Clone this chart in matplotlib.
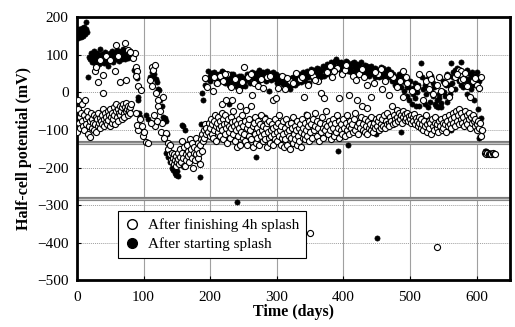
import matplotlib
matplotlib.use("Agg")
import matplotlib.pyplot as plt
from matplotlib.lines import Line2D

plt.rcParams['font.family'] = ['Liberation Serif', 'DejaVu Serif']

# ---------------- data: "After starting splash" (filled) ----------------
filled_early = [(0,150),(1,160),(2,145),(3,170),(4,155),(5,165),(6,148),(7,158),(8,172),(9,150),
    (10,162),(11,175),(12,155),(13,168),(14,189),(15,160),
    (17,40),(20,-92),(27,-94),(72,-64),
    (18,95),(20,88),(21,105),(22,92),(23,80),(24,100),(25,110),(26,90),(27,78),(28,98),(29,85),
    (30,105),(31,95),(32,88),(33,75),(34,100),(35,115),(36,92),(37,82),(38,102),(39,90),(40,78),
    (41,96),(42,108),(43,88),(44,80),(45,100),(46,92),(47,70),(48,95),(49,105),(50,85),(51,98),
    (52,110),(53,90),(54,80),(55,100),(56,95),(57,105),(58,88),(59,98),(60,112),(61,92),(62,100),
    (63,85),(64,105),(65,95),(66,110),(67,90),(68,100),(69,115),(70,95),(71,105),(72,88),(73,108),
    (74,98),(75,112),(76,92),(77,105),(78,100),(79,110),(80,96),(82,104)]
filled_dip = [(86,60),(88,52),(90,39),(92,-11),(91,-19),(93,-55),(94,-64),(104,-60),(106,-70),
    (110,40),(112,55),(114,42),(116,48),(118,35),(120,29),(121,10),(123,7),(125,-19),(127,-37),
    (129,-64),(131,-73),(132,-68),(134,-77),(135,-110),
    (133,-161),(136,-171),(138,-160),(140,-185),(142,-200),(144,-206),(145,-198),(147,-215),
    (149,-219),(150,-210),(152,-222),(155,-180),(157,-86),(159,-90),(162,-100),(164,-140),
    (166,-165),(168,-150),(170,-175),(172,-160),(175,-170),(177,-180),(179,-144),(182,-170),
    (184,-224),(186,-85),(187,-2),(189,-19),(192,20),(194,35),(197,56)]
filled_band = [(199,45),(201,52),(203,38),(205,55),(207,42),(209,48),(211,30),(213,50),(215,40),
    (217,58),(219,35),(221,45),(223,25),(225,50),(227,38),(229,20),(231,42),(233,30),(235,48),
    (237,25),(239,40),(241,15),(243,35),(245,22),(247,45),(249,30),(251,38),(253,18),(255,42),
    (257,35),(259,50),(261,40),(263,55),(265,45),(267,30),(269,52),(271,42),(273,60),(275,38),
    (277,48),(279,55),(281,35),(283,45),(285,58),(287,40),(289,3),(291,50),(293,42),(295,55),
    (297,35),(299,48),(301,38),(303,45),(305,28),(307,40),(309,22),(311,35),(313,18),(315,30),
    (317,15),(319,25),(321,38),(323,20),(325,42),(327,30),(329,45),(331,25),(333,40),(335,50),
    (337,35),(339,55),(341,45),(343,30),(345,58),(347,40),(349,52),(351,62),(353,45),(355,35),
    (357,55),(359,48),(361,65),(363,50),(365,40),(367,58),(369,70),(371,45),(373,62),(375,75),
    (377,55),(379,68),(381,80),(383,62),(385,72),(387,85),(389,90),(391,65),(393,78),(395,70),
    (397,82),(399,60),(401,75),(403,68),(405,80),(407,58),(409,72),(411,65),(413,78),(415,55),
    (417,70),(419,62),(421,75),(423,58),(425,68),(427,80),(429,50),(431,65),(433,72),(435,55),
    (437,62),(439,45),(441,70),(443,58),(445,48),(447,65),(449,52),(451,60),(453,40),(455,55),
    (457,68),(459,45),(461,58),(463,35),(465,50),(467,62),(469,40),(471,55),(473,30),(475,48),
    (477,20),(479,42),(481,35),(483,25),(485,45),(487,15),(489,38),(491,5),(493,28),(495,-10),
    (497,20),(499,-20),(501,10),(503,-30),(505,-5),(507,25),(509,-35),(511,0),(513,-35),(516,79),
    (518,40),(520,-20),(522,20),(524,-5),(526,35),(528,10),(530,-25),(532,45),(534,-10),(536,15),
    (538,-30),(540,-20),(542,-38),(544,-15),(546,-28),(548,5),(550,30),(552,-10),(554,20),(556,50),
    (558,45),(560,-5),(561,79),(563,25),(565,55),(567,10),(569,40),(571,65),(573,30),(576,80),
    (578,45),(580,15),(582,55),(584,35),(586,-5),(588,25),(590,50),(592,10),(594,40),(596,-20),
    (597,35),(598,45),(599,28),(600,55),(602,-45),(603,-121),(606,-68)]
filled_band2 = [(200,30),(204,45),(208,25),(212,40),(216,32),(220,55),(224,42),(228,30),(232,50),
    (236,35),(240,28),(244,45),(248,18),(252,30),(256,48),(260,25),(264,38),(268,45),(272,28),
    (276,55),(280,42),(284,30),(288,52),(292,32),(296,45),(300,25),(304,40),(308,30),(312,42),
    (316,28),(320,10),(324,32),(328,20),(332,48),(336,28),(340,42),(344,50),(348,25),(352,48),
    (356,60),(360,38),(364,62),(368,45),(372,68),(376,50),(380,65),(384,78),(388,60),(392,82),
    (396,58),(400,66),(404,85),(408,65),(412,55),(416,80),(420,60),(424,72),(428,58),(432,48),
    (436,70),(440,58),(444,62),(448,40),(452,50),(456,45),(460,65),(464,48),(468,55),(472,42),
    (476,35),(480,25),(484,50),(488,30),(492,40),(496,15),(500,30),(504,12),(508,-15),(512,20),
    (519,10),(523,-30),(527,-40),(531,5),(535,25),(539,-35),(543,-5),(547,-40),(551,0),(555,-25),
    (559,20),(564,40),(568,60),(572,45),(577,20),(581,30),(585,60),(589,35),(593,55),(595,20),
    (601,40),(604,30)]
filled_outliers = [(269,-172),(392,-157),(407,-139),(449,-111),(486,-104),(344,-57),(340,-89),
    (283,-66),(517,-89),(561,-101),(240,-291),(450,-387),(229,-30),(310,-120),(533,-75)]
filled_end = [(612,-155),(614,-157),(616,-158),(618,-160),(620,-160),(622,-161)]

# ---------------- data: "After finishing 4h splash" (open) ----------------
open_early = [(0,-105),(1,-45),(2,-20),(3,-80),(4,-65),(5,-95),(6,-55),(7,-75),(8,-30),(9,-90),
    (10,-60),(11,-100),(12,-20),(13,-70),(14,-85),(15,-50),(16,-110),(17,-65),(18,-90),(19,-118),
    (20,-75),(21,-55),(22,-95),(23,-70),(24,-80),(25,-60),(26,-100),(27,-85),(28,-65),(29,-105),
    (30,-70),(31,-90),(32,-55),(33,-80),(34,-68),(35,-95),(36,-75),(37,-60),(38,-85),(39,-45),
    (40,-70),(41,-90),(42,-55),(43,-78),(44,-65),(45,-85),(46,-50),(47,-72),(48,-60),(49,-88),
    (50,-45),(51,-65),(52,-80),(53,-55),(54,-70),(55,-40),(56,-60),(57,-85),(58,-50),(59,-30),
    (60,-65),(61,-45),(62,-75),(63,-55),(64,-35),(65,-60),(66,-48),(67,-70),(68,-40),(69,-30),
    (70,-55),(71,-65),(72,-38),(73,-50),(74,-28),(75,-45),(76,-60),(77,-35),(78,-50),(79,-40),
    (80,-55),(81,-32),
    (27,56),(29,69),(32,29),(39,47),(39,-2),(44,96),(34,87),(49,87),(57,56),(59,127),(62,96),
    (64,29),(72,132),(74,34),(76,114),(84,92),(87,105),(80,108)]
open_dip = [(88,69),(90,56),(89,43),(91,16),(96,7),(89,-55),(92,-99),(99,-117),(104,-131),(90,-86),
    (94,-70),(97,-90),(101,-105),(107,-135),(109,34),(112,69),(114,60),(117,74),(113,16),(119,-2),
    (122,-19),(129,-11),(122,-37),(117,-90),(127,-82),(126,-104),(134,-108),(136,-135),(111,-80),
    (115,-60),(124,-50),(131,-120),(120,-75),
    (137,-150),(139,-165),(140,-140),(141,-180),(142,-160),(143,-185),(144,-175),(145,-190),
    (146,-165),(147,-180),(148,-195),(149,-170),(150,-185),(151,-160),(152,-178),(153,-190),
    (154,-150),(155,-172),(156,-185),(157,-160),(158,-130),(159,-175),(160,-195),(161,-145),
    (162,-197),(163,-165),(164,-180),(165,-140),(166,-170),(167,-155),(168,-185),(169,-125),
    (170,-165),(171,-150),(172,-175),(173,-135),(174,-200),(175,-160),(176,-145),(177,-180),
    (178,-120),(179,-165),(180,-150),(181,-175),(182,-135),(183,-160),(184,-190),(185,-140),
    (186,-125),(187,-155),(188,-110),(189,-130),(190,-100),(191,-120),(192,-85),(193,-110),
    (194,-95),(196,-105),(198,-80),(199,-115)]
open_lower = [(200,-95),(201,-70),(202,-110),(203,-85),(204,-120),(205,-75),(206,-100),(207,-60),
    (208,-90),(209,-130),(210,-80),(211,-105),(212,-65),(213,-95),(214,-115),(215,-75),(216,-90),
    (217,-55),(218,-100),(219,-125),(220,-70),(221,-85),(222,-110),(223,-60),(224,-95),(225,-80),
    (226,-135),(227,-70),(228,-105),(229,-88),(230,-120),(231,-65),(232,-95),(233,-78),(234,-110),
    (235,-50),(236,-90),(237,-130),(238,-75),(239,-100),(240,-145),(241,-85),(242,-115),(243,-70),
    (244,-95),(245,-140),(246,-80),(247,-105),(248,-60),(249,-120),(250,-90),(251,-110),(252,-75),
    (253,-130),(254,-46),(255,-95),(256,-140),(257,-85),(258,-115),(259,-70),(260,-100),(261,-37),
    (262,-125),(263,-8),(264,-90),(265,-145),(266,-80),(267,-110),(268,-65),(269,-135),(270,-95),
    (271,-120),(272,-75),(273,-105),(274,-140),(275,-85),(276,-115),(277,-60),(278,-100),
    (279,-130),(280,-90),(281,-110),(282,-70),(283,-125),(284,-95),(285,-145),(286,-80),
    (287,-105),(288,-120),(289,-75),(290,-135),(291,-100),(292,-115),(293,-85),(294,-140),
    (295,-95),(296,-110),(297,-70),(298,-125),(299,-90),(300,-105),(301,-130),(302,-80),
    (303,-115),(304,-60),(305,-100),(306,-140),(307,-90),(308,-120),(309,-75),(310,-110),
    (311,-145),(312,-95),(313,-125),(314,-70),(315,-105),(316,-140),(317,-85),(318,-115),
    (319,-100),(320,-150),(321,-80),(322,-120),(323,-95),(324,-135),(325,-65),(326,-110),
    (327,-90),(328,-125),(329,-100),(330,-140),(331,-75),(332,-115),(333,-95),(334,-130),
    (335,-85),(336,-105),(337,-145),(338,-70),(339,-120),(340,-95),(341,-110),(342,-80),
    (343,-125),(344,-100),(345,-60),(346,-115),(347,-90),(348,-130),(349,-75),(350,-105),
    (352,-85),(353,-120),(354,-70),(356,-100),(357,-55),(358,-90),(360,-115),(361,-75),(362,-95),
    (364,-130),(365,-80),(366,-105),(368,-65),(369,-95),(370,-120),(372,-85),(373,-100),(374,-50),
    (376,-90),(377,-110),(378,-75),(380,-100),(381,-125),(382,-85),(384,-95),(385,-70),(386,-115),
    (388,-80),(389,-105),(390,-60),(392,-95),(393,-120),(394,-75),(396,-100),(397,-85),(398,-110),
    (400,-70),(401,-95),(402,-115),(404,-80),(405,-100),(406,-60),(408,-90),(409,-110),(410,-75),
    (412,-95),(413,-85),(414,-105),(416,-70),(417,-100),(418,-55),(420,-90),(421,-19),(422,-110),
    (424,-80),(425,-95),(426,-65),(428,-37),(429,-100),(430,-85),(432,-105),(433,-70),(434,-90),
    (435,-41),(436,-110),(437,-75),(438,-95),(440,-85),(441,-100),(442,-65),(444,-90),(445,-105),
    (446,-80),(448,-95),(449,-70),(450,-90),(452,-75),(453,-100),(454,-65),(456,-85),(457,-95),
    (458,-70),(460,-88),(461,-60),(462,-95),(464,-75),(465,-85),(466,-55),(468,-80),(469,-90),
    (470,-65),(472,-75),(473,-37),(474,-85),(476,-60),(477,-70),(478,-80),(480,-46),(481,-65),
    (482,-75),(484,-55),(485,-70),(486,-60),(488,-80),(489,-50),(490,-65),(492,-72),(493,-58),
    (494,-68),(496,-55),(497,-75),(498,-62),(500,-70),(501,-60),(502,-80),(504,-65),(505,-75),
    (506,-58),(508,-85),(509,-68),(510,-75),(512,-90),(513,-65),(514,-80),(516,-95),(517,-70),
    (518,-85),(520,-100),(521,-75),(522,-90),(524,-60),(525,-85),(526,-105),(528,-75),(529,-95),
    (530,-80),(532,-110),(533,-70),(534,-90),(536,-100),(537,-80),(538,-65),(540,-95),(541,-85),
    (542,-105),(544,-75),(545,-90),(546,-70),(548,-100),(549,-80),(550,-95),(552,-65),(553,-85),
    (554,-105),(556,-75),(557,-90),(558,-60),(560,-85),(561,-70),(562,-95),(564,-55),(565,-80),
    (566,-65),(568,-90),(569,-50),(570,-75),(572,-60),(573,-85),(574,-45),(576,-70),(577,-55),
    (578,-80),(580,-65),(581,-90),(582,-50),(584,-75),(585,-60),(586,-85),(588,-55),(589,-70),
    (590,-95),(592,-65),(593,-80),(594,-60),(596,-75),(597,-90),(598,-70),(600,-85),(601,-100),
    (602,-75),(604,-95),(605,-80),(606,-117),(608,-100),(217,-30),(233,-20),(245,-35),(224,-19)]
open_upper = [(192,38),(195,15),(204,3),(210,25),(215,45),(220,30),(226,50),(232,15),(238,35),
    (244,7),(251,69),(257,40),(266,25),(272,17),(279,12),(285,40),(294,-19),(299,-15),(302,12),
    (308,45),(313,8),(320,30),(329,53),(335,35),(341,-12),(347,20),(355,45),(362,30),(366,-1),
    (371,-14),(376,55),(383,40),(390,65),(394,-14),(398,50),(402,60),(409,-6),(414,45),(419,34),
    (424,50),(431,40),(436,20),(441,-11),(446,25),(452,48),(458,10),(463,30),(468,-6),(474,40),
    (480,15),(485,30),(489,-11),(490,57),(496,25),(503,5),(510,15),(519,-19),(524,30),(528,49),
    (529,10),(535,-5),(541,20),(547,5),(553,25),(558,-11),(562,10),(567,40),(573,60),(576,56),
    (578,43),(577,34),(580,35),(585,17),(590,-11),(595,30),(600,20),(603,12),(606,40),
    (206,40),(222,48),(248,28),(262,50),(276,35),(290,45),(316,38),(324,25),(338,42),(352,55),
    (358,32),(380,70),(386,58),(404,72),(428,62),(448,55),(456,62),(470,48),(494,42),(514,48),
    (532,35),(544,40),(556,45),(570,48),(583,52),(598,38),
    (350,-375),(540,-412)]
open_end = [(612,-162),(614,-163),(616,-162),(618,-164),(620,-163),(622,-163),(624,-162),
    (626,-163),(628,-163)]

threshold_levels = [-135, -285]
x_ticks = [0, 100, 200, 300, 400, 500, 600]
y_ticks = [-500, -400, -300, -200, -100, 0, 100, 200]
labels = ["After finishing 4h splash", "After starting splash"]

open_pts = open_early + open_dip + open_lower + open_upper + open_end
filled_pts = filled_early + filled_dip + filled_band + filled_band2 + filled_outliers + filled_end
ox, oy = zip(*open_pts)
fx, fy = zip(*filled_pts)

fig = plt.figure(figsize=(5.15, 3.27), dpi=100)
ax = fig.add_axes([0.1495, 0.1437, 0.8405, 0.8028])

for v in x_ticks[1:]:
    ax.axvline(v, color='#a0a0a0', lw=0.8, zorder=0)
for v in y_ticks[1:-1]:
    ax.axhline(v, color='#a0a0a0', lw=0.7, ls=(0, (1, 1)), zorder=0)
for t in threshold_levels:
    ax.axhline(t, color='#7a7a7a', lw=3.0, zorder=1)
    ax.axhline(t, color='#c4c4c4', lw=1.0, zorder=1)

ax.plot(fx, fy, 'o', ls='none', ms=3.7, mfc='black', mec='black', mew=0.5, zorder=2)
ax.plot(ox, oy, 'o', ls='none', ms=4.4, mfc='white', mec='black', mew=0.8, zorder=3)

ax.set_xlim(0, 650)
ax.set_ylim(-500, 200)
ax.set_xticks(x_ticks)
ax.set_yticks(y_ticks)
ax.tick_params(direction='in', length=3, width=0.8, labelsize=11, pad=6)
ax.tick_params(axis='x', pad=8)
for s in ax.spines.values():
    s.set_linewidth(2.0)

ax.set_xlabel("Time (days)", fontsize=11.5, fontweight='bold', labelpad=0)
ax.set_ylabel("Half-cell potential (mV)", fontsize=11.5, fontweight='bold', labelpad=4)

handles = [Line2D([], [], marker='o', ls='none', ms=7, mfc='white', mec='black', mew=1.0),
           Line2D([], [], marker='o', ls='none', ms=7, mfc='black', mec='black')]
leg = ax.legend(handles, labels, loc='lower left', bbox_to_anchor=(0.0947, 0.0838),
                borderaxespad=0, fontsize=11, frameon=True, fancybox=False,
                edgecolor='black', framealpha=1, handlelength=1.0, handletextpad=0.5,
                labelspacing=0.35, borderpad=0.45)
leg.get_frame().set_linewidth(0.8)

fig.savefig("out.png", dpi=100)
